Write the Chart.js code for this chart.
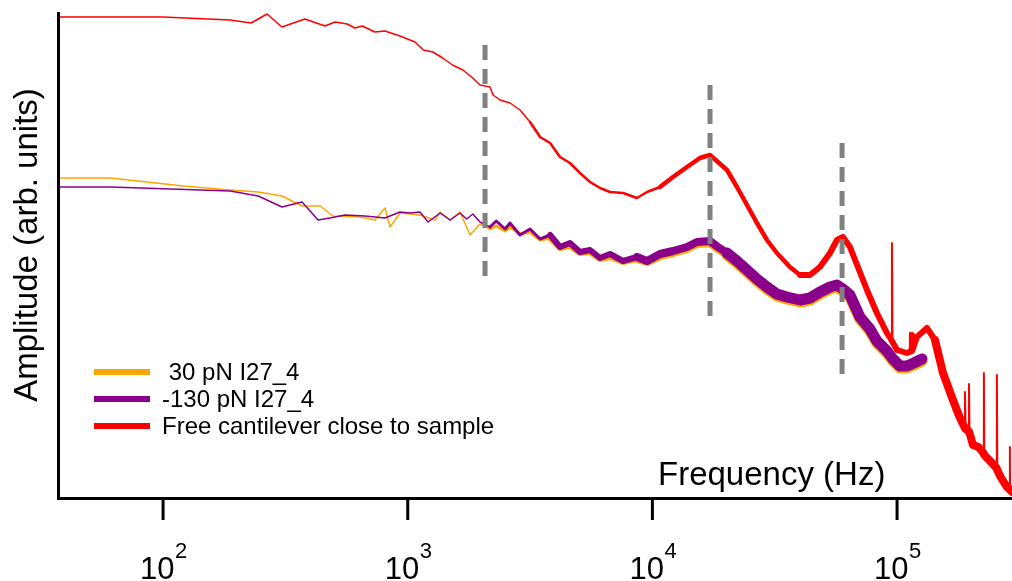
<!DOCTYPE html>
<html>
<head>
<meta charset="utf-8">
<script src="https://cdn.jsdelivr.net/npm/chart.js@4.4.1/dist/chart.umd.min.js"></script>
<style>
  html, body { margin: 0; padding: 0; background: #fff; }
  #wrap { width: 1012px; height: 581px; position: relative; }
</style>
</head>
<body>
<div id="wrap"><canvas id="spectrumChart"></canvas></div>
<script>
// frequency (Hz) and amplitude (arb. units)
var redFreq = [37, 100, 188, 229, 266, 306, 380, 459, 505, 565, 609, 651, 735, 807, 930, 1071, 1158, 1268, 1389, 1524, 1680, 1846, 1974, 2168, 2233, 2384, 2618, 2876, 3162, 3475, 3818, 4191, 4604, 5058, 5562, 6106, 6708, 7586, 8651, 9508, 10740, 12140, 13850, 15640, 17190, 18530, 20180, 22170, 24360, 26750, 29400, 32270, 36480, 40110, 44060, 48400, 53210, 56810, 60100, 64200, 69180, 75340, 82700, 90900, 94800, 95300, 95800, 100000, 109700, 112400, 112900, 113500, 114500, 115000, 115600, 120500, 132500, 142900, 154100, 169200, 180000, 188500, 189500, 190500, 195800, 196800, 197800, 204300, 215000, 225500, 226400, 227300, 240000, 254900, 255900, 256900, 265000, 281100, 288800, 289200, 289700, 295100];
var redAmp = [480, 480, 477, 474, 483, 470, 478, 471, 475, 473, 469, 471, 465, 466, 461, 455, 447, 445, 439, 432, 427, 419, 412, 410, 402, 397, 394, 387, 375, 360, 354, 340, 334, 324, 315, 309, 305, 304, 299, 305, 310, 320, 330, 339, 342, 335, 327, 310, 292, 274, 257, 244, 230, 222, 222, 230, 244, 257, 260, 250, 230, 207, 184, 164, 157, 254, 155, 147, 144, 145, 164, 146, 146, 162, 147, 160, 169, 157, 124, 97, 80, 70, 105, 68, 66, 113, 64, 52, 50, 44, 124, 42, 36, 29, 122, 27, 20, 10, 8, 50, 7, 5];

var purpleFreq = [37, 61, 188, 245, 306, 370, 430, 481, 554, 669, 807, 930, 1021, 1122, 1211, 1356, 1490, 1636, 1740, 1846, 1974, 2168, 2300, 2500, 2618, 2876, 3162, 3475, 3818, 4191, 4604, 5058, 5562, 6106, 6708, 7586, 8651, 9508, 10740, 12140, 13850, 15210, 17190, 18530, 20180, 22170, 24360, 26750, 29400, 32270, 35480, 40110, 44060, 48400, 53210, 56810, 60100, 64200, 70500, 77500, 82700, 90900, 96200, 102800, 109700, 117000, 126400];
var purpleAmp = [310, 310, 306, 301, 290, 295, 277, 279, 282, 281, 279, 285, 284, 285, 275, 284, 277, 284, 278, 283, 275, 270, 276, 268, 274, 262, 268, 258, 262, 250, 254, 245, 247, 239, 243, 236, 240, 236, 243, 246, 250, 255, 256, 250, 244, 236, 227, 218, 210, 203, 200, 197, 199, 205, 210, 212, 208, 202, 180, 168, 156, 146, 138, 131, 131, 134, 138];

var orangeFreq = [37, 61, 121, 188, 245, 306, 370, 438, 495, 638, 735, 807, 847, 930, 1122, 1294, 1356, 1490, 1636, 1798, 1974, 2168, 2300, 2500, 2618, 2876, 3162, 3475, 3818, 4191, 4604, 5058, 5562, 6106, 6708, 7586, 8651, 9508, 10740, 12140, 13850, 15210, 17190, 18530, 20180, 22170, 24360, 26750, 29400, 32270, 35480, 40110, 44060, 48400, 53210, 56810, 60100, 64200, 70500, 77500, 82700, 90900, 96200, 102800, 109700, 117000, 126400];
var orangeAmp = [319, 319, 311, 307, 305, 301, 291, 291, 281, 280, 277, 289, 270, 284, 282, 277, 285, 277, 285, 262, 273, 268, 271, 266, 270, 263, 265, 257, 259, 249, 251, 244, 245, 238, 240, 235, 238, 235, 241, 244, 248, 253, 254, 248, 242, 234, 225, 216, 208, 201, 198, 195, 197, 203, 208, 210, 206, 200, 178, 166, 154, 144, 136, 129, 129, 132, 136];

// dashed resonance markers
var markerFreq = [2070, 17200, 59600];
var markerTop = [452, 412, 354];
var markerBottom = [212, 175, 117];

var tickPowers = [2, 3, 4, 5];
var seriesLabels = [' 30 pN I27_4', '-130 pN I27_4', 'Free cantilever close to sample'];
var seriesColors = ['#FFA500', '#8B008B', '#FF0000'];

function pairs(xs, ys) {
  return xs.map(function(x, i) { return { x: x, y: ys[i] }; });
}

// the measured traces get denser (visually thicker) at high frequency
function bandWidth(f) { return f < 2000 ? 1.5 : f < 3500 ? 3 : f < 8000 ? 6 : f < 20000 ? 8 : 11; }
function redWidth(f) { return f < 3000 ? 1.5 : f < 10000 ? 2.5 : f < 40000 ? 4.5 : f < 140000 ? 6 : 8; }
function isSpike(arr, i) {
  return i > 0 && i < arr.length - 1 && arr[i] - arr[i - 1] > 15 && arr[i] - arr[i + 1] > 15;
}

var datasets = [];
for (var i = 0; i < markerFreq.length; i++) {
  datasets.push({
    data: [{ x: markerFreq[i], y: markerTop[i] }, { x: markerFreq[i], y: markerBottom[i] }],
    borderColor: '#808080',
    borderWidth: 5,
    borderDash: [15, 9],
    pointRadius: 0
  });
}
datasets.push({
  data: pairs(redFreq, redAmp),
  borderColor: seriesColors[2],
  borderWidth: 1.5,
  borderJoinStyle: 'round',
  borderCapStyle: 'round',
  pointRadius: 0,
  segment: {
    borderWidth: function(c) {
      if (isSpike(redAmp, c.p0DataIndex) || isSpike(redAmp, c.p1DataIndex)) return 2;
      return redWidth(c.p0.parsed.x);
    }
  }
});
datasets.push({
  data: pairs(purpleFreq, purpleAmp),
  borderColor: seriesColors[1],
  borderWidth: 1.5,
  borderJoinStyle: 'round',
  borderCapStyle: 'round',
  pointRadius: 0,
  segment: { borderWidth: function(c) { return bandWidth(c.p0.parsed.x); } }
});
datasets.push({
  data: pairs(orangeFreq, orangeAmp),
  borderColor: seriesColors[0],
  borderWidth: 1.5,
  borderJoinStyle: 'round',
  borderCapStyle: 'round',
  pointRadius: 0,
  segment: { borderWidth: function(c) { return bandWidth(c.p0.parsed.x); } }
});

var FONT = '"Liberation Sans", Arial, sans-serif';

var decorations = {
  id: 'decorations',
  afterDraw: function(chart) {
    var ctx = chart.ctx;
    var area = chart.chartArea;
    var xs = chart.scales.x;
    ctx.save();
    ctx.strokeStyle = '#000';
    ctx.lineWidth = 3;
    ctx.beginPath();
    ctx.moveTo(area.left + 0.5, area.top);
    ctx.lineTo(area.left + 0.5, area.bottom + 2);
    ctx.moveTo(area.left - 1, area.bottom + 1.5);
    ctx.lineTo(chart.width, area.bottom + 1.5);
    ctx.stroke();

    // decade ticks and labels
    ctx.fillStyle = '#000';
    ctx.textBaseline = 'alphabetic';
    ctx.textAlign = 'left';
    tickPowers.forEach(function(p) {
      var px = xs.getPixelForValue(Math.pow(10, p));
      ctx.beginPath();
      ctx.moveTo(px, area.bottom + 2);
      ctx.lineTo(px, area.bottom + 23);
      ctx.stroke();
      ctx.font = '31px ' + FONT;
      ctx.fillText('10', px - 23, 579);
      ctx.font = '22px ' + FONT;
      ctx.fillText(String(p), px + 12, 558);
    });

    // axis titles
    ctx.font = '33px ' + FONT;
    ctx.fillText('Frequency (Hz)', 658, 485);
    ctx.save();
    ctx.translate(37, 245);
    ctx.rotate(-Math.PI / 2);
    ctx.textAlign = 'center';
    ctx.fillText('Amplitude (arb. units)', 0, 0);
    ctx.restore();

    // legend
    ctx.font = '24px ' + FONT;
    ctx.lineWidth = 6;
    for (var i = 0; i < seriesLabels.length; i++) {
      var yc = 372 + i * 27;
      ctx.strokeStyle = seriesColors[i];
      ctx.beginPath();
      ctx.moveTo(94, yc);
      ctx.lineTo(150, yc);
      ctx.stroke();
      ctx.fillText(seriesLabels[i], 162, yc + 8);
    }
    ctx.restore();
  }
};

var ctx1 = document.getElementById('spectrumChart').getContext('2d');
var spectrumChart = new Chart(ctx1, {
  type: 'line',
  data: { datasets: datasets },
  options: {
    responsive: true,
    maintainAspectRatio: false,
    animation: false,
    layout: { padding: { left: 58, right: 0, top: 12, bottom: 84 } },
    scales: {
      x: { type: 'logarithmic', min: 37.2, max: 295000, display: false },
      y: { type: 'linear', min: 0, max: 485, display: false }
    },
    plugins: {
      legend: { display: false },
      tooltip: { enabled: false }
    }
  },
  plugins: [decorations]
});
</script>
</body>
</html>
